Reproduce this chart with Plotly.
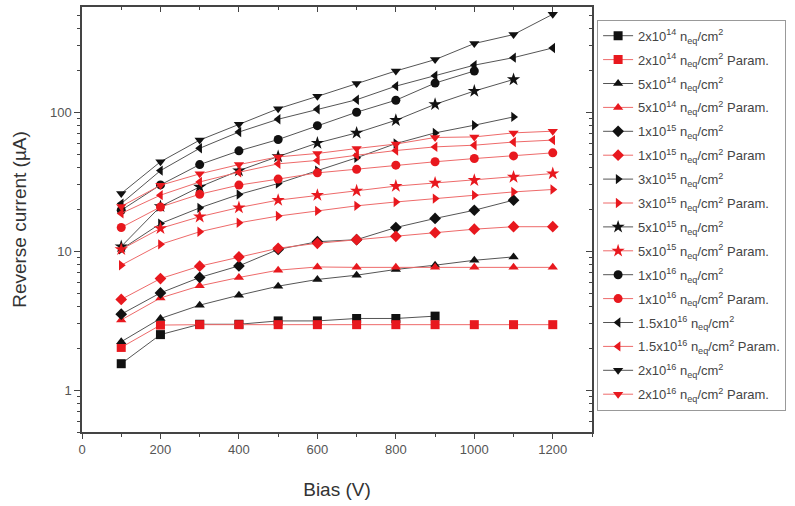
import plotly.graph_objects as go

bias = [100, 200, 300, 400, 500, 600, 700, 800, 900, 1000, 1100, 1200]

labels = [
    "2x10<sup>14</sup> n<sub>eq</sub>/cm<sup>2</sup>",
    "2x10<sup>14</sup> n<sub>eq</sub>/cm<sup>2</sup> Param.",
    "5x10<sup>14</sup> n<sub>eq</sub>/cm<sup>2</sup>",
    "5x10<sup>14</sup> n<sub>eq</sub>/cm<sup>2</sup> Param.",
    "1x10<sup>15</sup> n<sub>eq</sub>/cm<sup>2</sup>",
    "1x10<sup>15</sup> n<sub>eq</sub>/cm<sup>2</sup> Param",
    "3x10<sup>15</sup> n<sub>eq</sub>/cm<sup>2</sup>",
    "3x10<sup>15</sup> n<sub>eq</sub>/cm<sup>2</sup> Param.",
    "5x10<sup>15</sup> n<sub>eq</sub>/cm<sup>2</sup>",
    "5x10<sup>15</sup> n<sub>eq</sub>/cm<sup>2</sup> Param.",
    "1x10<sup>16</sup> n<sub>eq</sub>/cm<sup>2</sup>",
    "1x10<sup>16</sup> n<sub>eq</sub>/cm<sup>2</sup> Param.",
    "1.5x10<sup>16</sup> n<sub>eq</sub>/cm<sup>2</sup>",
    "1.5x10<sup>16</sup> n<sub>eq</sub>/cm<sup>2</sup> Param.",
    "2x10<sup>16</sup> n<sub>eq</sub>/cm<sup>2</sup>",
    "2x10<sup>16</sup> n<sub>eq</sub>/cm<sup>2</sup> Param.",
]

# measured (black) and parametrised (red) reverse currents, uA
meas_2e14 = [1.55, 2.51, 2.98, 2.98, 3.15, 3.15, 3.28, 3.28, 3.41]
par_2e14 = [2.03, 2.94, 2.96, 2.96, 2.96, 2.96, 2.96, 2.96, 2.96, 2.96, 2.96, 2.96]
meas_5e14 = [2.23, 3.28, 4.09, 4.82, 5.6, 6.26, 6.72, 7.39, 7.93, 8.6, 9.1]
par_5e14 = [3.2, 4.61, 5.63, 6.47, 7.3, 7.7, 7.65, 7.65, 7.65, 7.65, 7.65, 7.65]
meas_1e15 = [3.52, 5.01, 6.47, 7.84, 10.3, 11.7, 12.1, 14.8, 17.2, 19.7, 23.3]
par_1e15 = [4.5, 6.35, 7.8, 9.1, 10.5, 11.4, 12.1, 12.8, 13.6, 14.4, 15.0, 15.0]
meas_3e15 = [10.3, 15.8, 20.5, 25.6, 30.7, 38, 47, 59.5, 71, 80.6, 92.5]
par_3e15 = [7.93, 11.2, 13.8, 16.0, 17.9, 19.5, 21.2, 22.6, 23.9, 25.3, 26.7, 27.8]
meas_5e15 = [10.8, 21, 29, 38, 48, 60, 71, 87.5, 114, 142, 172]
par_5e15 = [10.3, 14.6, 17.7, 20.6, 23.3, 25.3, 27.2, 29.4, 31.0, 32.4, 34.2, 36.2]
meas_1e16 = [19.7, 30, 42, 52.7, 63.6, 80, 100, 122, 162, 198]
par_1e16 = [14.8, 20.8, 25.7, 29.9, 33.0, 36.6, 38.9, 41.6, 44.0, 46.4, 48.5, 51.0]
meas_15e16 = [22, 38, 55, 72, 89, 105, 123, 154, 183, 218, 247, 290]
par_15e16 = [18.7, 25.3, 31.5, 37, 42.5, 45, 49, 53, 56.3, 57.9, 61, 63]
meas_2e16 = [26, 44, 63, 82, 106, 130, 161, 198, 239, 312, 362, 507]
par_2e16 = [21, 29.8, 36, 42, 47.7, 50.5, 54.8, 59, 65.8, 66.4, 71, 73]

series = [meas_2e14, par_2e14, meas_5e14, par_5e14, meas_1e15, par_1e15,
          meas_3e15, par_3e15, meas_5e15, par_5e15, meas_1e16, par_1e16,
          meas_15e16, par_15e16, meas_2e16, par_2e16]
symbols = ["square", "square", "triangle-up", "triangle-up", "diamond", "diamond",
           "triangle-right", "triangle-right", "star", "star", "circle", "circle",
           "triangle-left", "triangle-left", "triangle-down", "triangle-down"]

BLACK = "#111111"
BLACK_LINE = "#555555"
RED = "#e8181e"
RED_LINE = "#ee6a6a"

fig = go.Figure()
for i, (ys, sym, name) in enumerate(zip(series, symbols, labels)):
    red = i % 2 == 1
    fig.add_trace(go.Scatter(
        x=bias[:len(ys)], y=ys, name=name, mode="lines+markers",
        legendgroup="g%d" % i,
        line=dict(color=RED_LINE if red else BLACK_LINE, width=1),
        marker=dict(symbol=sym, size=10 if sym == "star" else 9,
                    color=RED if red else BLACK, line=dict(width=0)),
    ))

# dummy trace for mirrored frame axes (top / right, inward ticks)
fig.add_trace(go.Scatter(x=[None], y=[None], xaxis="x2", yaxis="y2",
                         showlegend=False, hoverinfo="skip"))

axis_color = "#444444"
tick_font = dict(family="Liberation Sans, Arial, sans-serif", size=13, color="#555555")
title_font = dict(family="Liberation Sans, Arial, sans-serif", size=19, color="#333333")

fig.update_layout(
    width=795, height=506,
    margin=dict(l=82, r=203, t=7, b=74, autoexpand=False),
    plot_bgcolor="white", paper_bgcolor="white",
    showlegend=True,
    legend=dict(x=1.01, y=0.97, xanchor="left", yanchor="top",
                bordercolor="#999999", borderwidth=1, bgcolor="white",
                font=dict(family="Liberation Sans, Arial, sans-serif", size=13, color="#444444"),
                itemwidth=30, tracegroupgap=4),
    xaxis=dict(range=[0, 1300], dtick=200, tick0=0, showgrid=False, zeroline=False,
               automargin=False,
               showline=True, linecolor=axis_color, linewidth=1.5,
               ticks="outside", ticklen=5, tickcolor=axis_color,
               minor=dict(dtick=100, ticks="outside", ticklen=3, tickcolor=axis_color),
               tickfont=tick_font,
               title=dict(text="Bias (V)", font=title_font, standoff=26)),
    yaxis=dict(type="log", range=[-0.301, 2.757], dtick=1, showgrid=False, zeroline=False,
               automargin=False,
               showline=True, linecolor=axis_color, linewidth=1.5,
               ticks="outside", ticklen=6, tickcolor=axis_color,
               minor=dict(dtick="D1", ticks="outside", ticklen=3, tickcolor=axis_color, showgrid=False),
               tickfont=tick_font,
               title=dict(text="Reverse current (µA)", font=title_font, standoff=18)),
    xaxis2=dict(overlaying="x", side="top", range=[0, 1300], dtick=200, tick0=0,
                automargin=False,
                showgrid=False, zeroline=False, showline=True, linecolor=axis_color, linewidth=1.5,
                ticks="inside", ticklen=5, tickcolor=axis_color, showticklabels=False,
                minor=dict(dtick=100, ticks="inside", ticklen=3, tickcolor=axis_color)),
    yaxis2=dict(overlaying="y", side="right", type="log", range=[-0.301, 2.757], dtick=1,
                automargin=False,
                showgrid=False, zeroline=False, showline=True, linecolor=axis_color, linewidth=1.5,
                ticks="inside", ticklen=6, tickcolor=axis_color, showticklabels=False,
                minor=dict(dtick="D1", ticks="inside", ticklen=3, tickcolor=axis_color, showgrid=False)),
)

fig.write_html("out.html", config={"displayModeBar": False},
               post_script="document.body.style.margin='0';")
